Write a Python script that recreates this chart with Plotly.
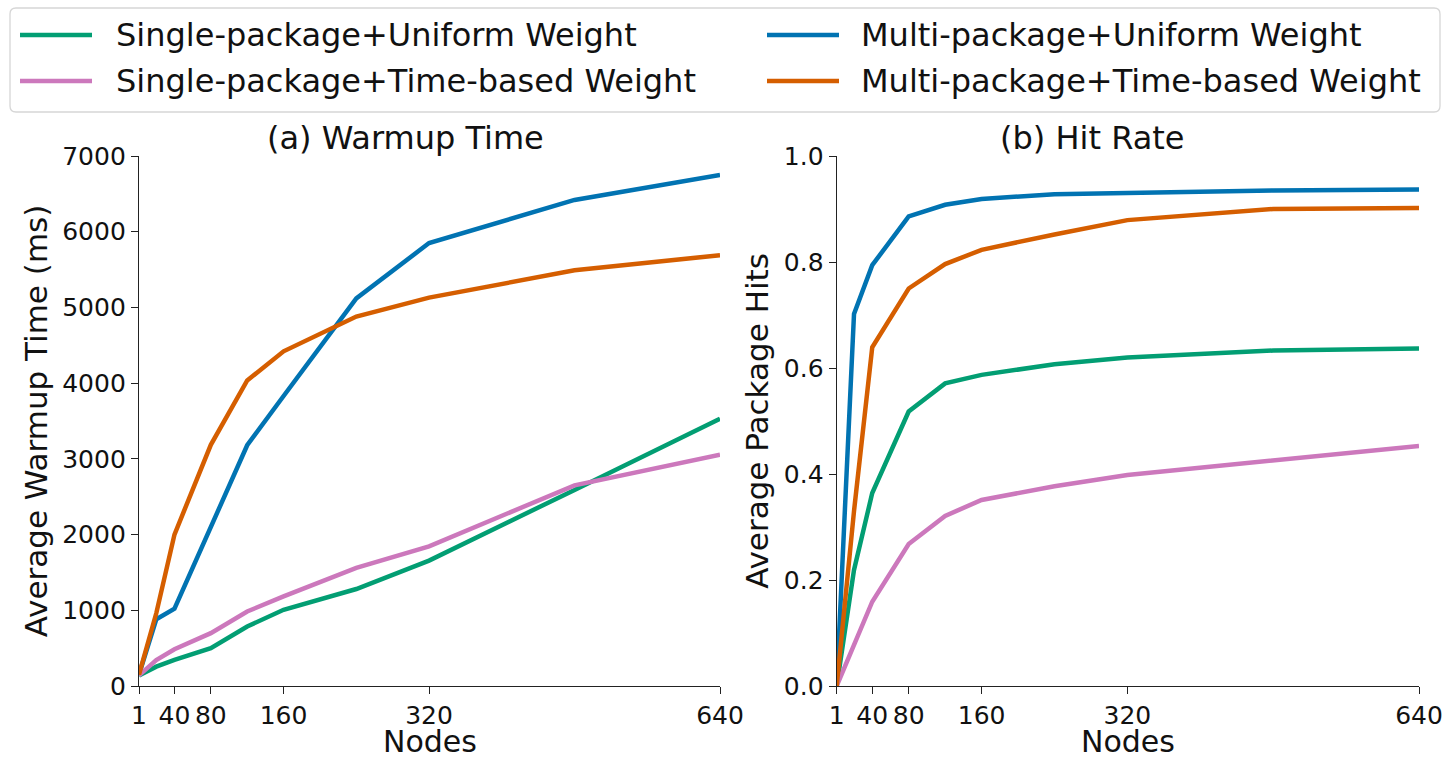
import plotly.graph_objects as go

# Node counts sampled in the experiments
nodes = [1, 20, 40, 80, 120, 160, 240, 320, 480, 640]
x_ticks = [1, 40, 80, 160, 320, 640]

# (a) Average warmup time in ms
warm_single_uniform = [140, 256, 344, 499, 786, 1007, 1281, 1656, 2590, 3530]
warm_single_time = [140, 344, 486, 698, 984, 1183, 1559, 1845, 2650, 3055]
warm_multi_uniform = [150, 880, 1020, 2100, 3180, 3830, 5120, 5850, 6420, 6750]
warm_multi_time = [150, 960, 2000, 3185, 4035, 4420, 4880, 5130, 5490, 5690]

# (b) Average package hits
hit_single_uniform = [0.0, 0.219, 0.364, 0.518, 0.571, 0.587, 0.607, 0.620, 0.633, 0.637]
hit_single_time = [0.0, 0.080, 0.159, 0.268, 0.321, 0.351, 0.377, 0.398, 0.425, 0.453]
hit_multi_uniform = [0.0, 0.702, 0.794, 0.886, 0.908, 0.919, 0.928, 0.931, 0.935, 0.937]
hit_multi_time = [0.0, 0.33, 0.639, 0.750, 0.796, 0.823, 0.852, 0.879, 0.900, 0.902]

series_names = [
    "Single-package+Uniform Weight",
    "Multi-package+Uniform Weight",
    "Single-package+Time-based Weight",
    "Multi-package+Time-based Weight",
]
colors = ["#029e73", "#0173b2", "#cc78bc", "#d55e00"]
warm_series = [warm_single_uniform, warm_multi_uniform, warm_single_time, warm_multi_time]
hit_series = [hit_single_uniform, hit_multi_uniform, hit_single_time, hit_multi_time]

FONT = "DejaVu Sans"
W, H = 1445, 760


def px(xp):
    return xp / W


def py(yp):
    return (H - yp) / H


fig = go.Figure()

for name, color, w, h in zip(series_names, colors, warm_series, hit_series):
    fig.add_trace(go.Scatter(x=nodes, y=w, mode="lines", name=name, showlegend=False,
                             line=dict(color=color, width=4.5), xaxis="x", yaxis="y"))
    fig.add_trace(go.Scatter(x=nodes, y=h, mode="lines", name=name, showlegend=False,
                             line=dict(color=color, width=4.5), xaxis="x2", yaxis="y2"))

axis_common = dict(
    showgrid=False, zeroline=False, showline=True, linecolor="#222", linewidth=1.3,
    ticks="outside", ticklen=7, tickwidth=1.3, tickcolor="#222", automargin=False,
    tickfont=dict(family=FONT, size=25, color="#111"),
)

left_dom = [px(139), px(720)]
right_dom = [px(836.7), px(1419)]
y_dom = [py(686), py(156)]

# Two-column legend box laid out in pixel positions
shapes = []
annotations = []
bx0, by0, bx1, by1, rr = 10, 8, 1440, 112, 6
shapes.append(dict(
    type="path", xref="paper", yref="paper",
    path=(f"M{px(bx0 + rr)},{py(by0)} L{px(bx1 - rr)},{py(by0)} "
          f"Q{px(bx1)},{py(by0)} {px(bx1)},{py(by0 + rr)} "
          f"L{px(bx1)},{py(by1 - rr)} Q{px(bx1)},{py(by1)} {px(bx1 - rr)},{py(by1)} "
          f"L{px(bx0 + rr)},{py(by1)} Q{px(bx0)},{py(by1)} {px(bx0)},{py(by1 - rr)} "
          f"L{px(bx0)},{py(by0 + rr)} Q{px(bx0)},{py(by0)} {px(bx0 + rr)},{py(by0)} Z"),
    line=dict(color="#d6d6d6", width=1.3), fillcolor="white", layer="below"))

legend_cols = [(20, 114), (767, 859)]
legend_rows = [35, 81]
for i, (name, color) in enumerate(zip(series_names, colors)):
    lx, tx = legend_cols[i % 2]
    ly = legend_rows[i // 2]
    shapes.append(dict(type="line", xref="paper", yref="paper",
                       x0=px(lx), x1=px(lx + 72), y0=py(ly), y1=py(ly),
                       line=dict(color=color, width=4.5)))
    annotations.append(dict(text=name, x=px(tx), y=py(ly), xref="paper", yref="paper",
                            xanchor="left", yanchor="middle", showarrow=False,
                            font=dict(family=FONT, size=32, color="#111")))

# Panel titles
for title, cx in (("(a) Warmup Time", 405), ("(b) Hit Rate", 1092)):
    annotations.append(dict(text=title, x=px(cx), y=py(138),
                            xref="paper", yref="paper", xanchor="center", yanchor="middle",
                            showarrow=False, font=dict(family=FONT, size=32, color="#111")))

# x-axis title under each panel, resting on the bottom edge
for dom in (left_dom, right_dom):
    annotations.append(dict(text="Nodes", x=(dom[0] + dom[1]) / 2, y=0,
                            xref="paper", yref="paper", xanchor="center", yanchor="bottom",
                            showarrow=False, borderpad=0,
                            font=dict(family=FONT, size=30, color="#111")))

fig.update_layout(
    width=W, height=H,
    margin=dict(l=0, r=0, t=0, b=0),
    paper_bgcolor="white", plot_bgcolor="white",
    font=dict(family=FONT, color="#111"),
    showlegend=False,
    xaxis=dict(domain=left_dom, range=[1, 640], tickvals=x_ticks, anchor="y", **axis_common),
    yaxis=dict(domain=y_dom, range=[0, 7000], dtick=1000, anchor="x",
               title=dict(text="Average Warmup Time (ms)", font=dict(size=31), standoff=5),
               **axis_common),
    xaxis2=dict(domain=right_dom, range=[1, 640], tickvals=x_ticks, anchor="y2", **axis_common),
    yaxis2=dict(domain=y_dom, range=[0, 1.0], dtick=0.2, tickformat=".1f", anchor="x2",
                title=dict(text="Average Package Hits", font=dict(size=31), standoff=5),
                **axis_common),
    shapes=shapes,
    annotations=annotations,
)

fig.write_html("out.html")
